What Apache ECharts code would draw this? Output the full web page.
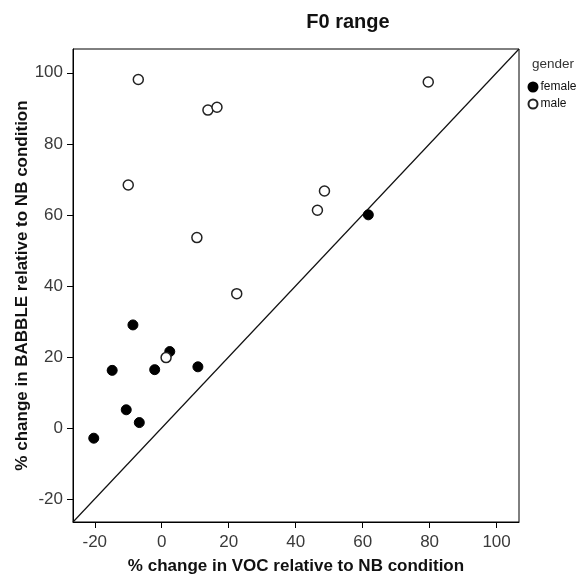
<!DOCTYPE html>
<html>
<head>
<meta charset="utf-8">
<script src="https://cdn.jsdelivr.net/npm/echarts@6/dist/echarts.min.js"></script>
<style>html,body{margin:0;padding:0;background:#fff;}#c{width:579px;height:580px;}</style>
</head>
<body>
<div id="c"></div>
<script>
const title = 'F0 range';
const xAxisName = '% change in VOC relative to NB condition';
const yAxisName = '% change in BABBLE relative to NB condition';
const legendTitle = 'gender';
const axisMin = -26.5;
const axisMax = 106.7;
const tickValues = [-20, 0, 20, 40, 60, 80, 100];
const femaleVOC = [61.7, -8.6, 2.4, -14.8, -2.1, 10.8, -10.6, -6.7, -20.3];
const femaleBABBLE = [60.0, 29.0, 21.5, 16.2, 16.4, 17.2, 5.1, 1.5, -2.9];
const maleVOC = [-7.0, 13.8, 16.5, -10.0, 48.6, 46.5, 10.5, 79.6, 22.4, 1.3];
const maleBABBLE = [98.1, 89.5, 90.3, 68.4, 66.7, 61.3, 53.6, 97.4, 37.8, 19.8];
const identityLine = [axisMin, axisMax];

const zip = (a, b) => a.map((v, i) => [v, b[i]]);
const font = '"Liberation Sans", Arial, sans-serif';

const chart = echarts.init(document.getElementById('c'), null, {renderer: 'canvas'});
const axisCommon = {
  type: 'value',
  min: axisMin,
  max: axisMax,
  nameLocation: 'middle',
  nameMoveOverlap: false,
  nameTextStyle: {fontFamily: font, fontWeight: 'bold', fontSize: 17, color: '#111'},
  axisLine: {show: true, onZero: false, lineStyle: {color: '#000', width: 1}},
  axisTick: {show: true, inside: false, length: 6, customValues: tickValues, lineStyle: {color: '#000', width: 1}},
  axisLabel: {customValues: tickValues, fontFamily: font, fontSize: 17, color: '#3a3a3a'},
  splitLine: {show: false}
};
chart.setOption({
  animation: false,
  backgroundColor: '#fff',
  title: {
    text: title, left: 343, top: 7, textAlign: 'center',
    textStyle: {fontFamily: font, fontWeight: 'bold', fontSize: 20, color: '#111'}
  },
  graphic: [{
    type: 'text', left: 532, top: 57,
    style: {text: legendTitle, fontFamily: font, fontSize: 13.5, fill: '#333'}
  }],
  legend: {
    orient: 'vertical', left: 527.5, top: 81, itemGap: 5, padding: 0,
    itemWidth: 9, itemHeight: 9,
    textStyle: {fontFamily: font, fontSize: 12, color: '#111', padding: [0, 0, 0, -2]},
    data: ['female', 'male']
  },
  grid: {left: 73, right: 60, top: 49, bottom: 56, show: true, borderColor: '#000', borderWidth: 1, containLabel: false},
  xAxis: Object.assign({}, axisCommon, {
    name: xAxisName, nameGap: 36,
    axisLabel: Object.assign({}, axisCommon.axisLabel, {margin: 12})
  }),
  yAxis: Object.assign({}, axisCommon, {
    name: yAxisName, nameGap: 42,
    axisLabel: Object.assign({}, axisCommon.axisLabel, {margin: 10})
  }),
  series: [
    {
      type: 'line', data: zip(identityLine, identityLine), symbol: 'none',
      lineStyle: {color: '#111', width: 1.2}, silent: true, z: 1
    },
    {
      name: 'female', type: 'scatter', data: zip(femaleVOC, femaleBABBLE),
      symbol: 'circle', symbolSize: 10,
      itemStyle: {color: '#000', borderColor: '#000', borderWidth: 1, opacity: 1}, z: 3
    },
    {
      name: 'male', type: 'scatter', data: zip(maleVOC, maleBABBLE),
      symbol: 'circle', symbolSize: 10,
      itemStyle: {color: '#fff', borderColor: '#222', borderWidth: 1.5, opacity: 1}, z: 3
    }
  ]
});
</script>
</body>
</html>
